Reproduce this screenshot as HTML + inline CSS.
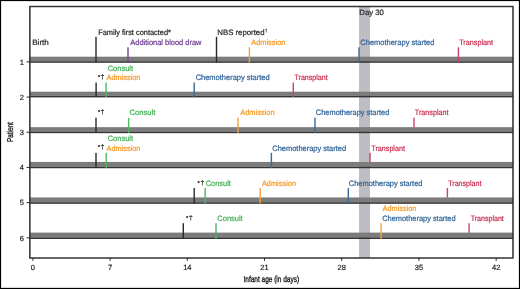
<!DOCTYPE html>
<html><head><meta charset="utf-8"><style>
html,body{margin:0;padding:0;background:#fff;}
body{width:520px;height:289px;overflow:hidden;}
svg{display:block;will-change:transform;}
text{font-family:"Liberation Sans",sans-serif;text-rendering:geometricPrecision;font-size:7.8px;fill:#1e1e1e;stroke:#1e1e1e;stroke-width:0.2px;}
.ax{stroke-width:0.35px;}
</style></head><body>
<svg width="520" height="289" viewBox="0 0 520 289">
<rect x="0" y="0" width="520" height="289" fill="#fff"/>
<g>
<rect x="0" y="0" width="520" height="1.1" fill="#000"/><rect x="0" y="0" width="1.1" height="289" fill="#000"/><rect x="518.9" y="0" width="1.1" height="289" fill="#000"/><rect x="0" y="287.85" width="520" height="1.15" fill="#000"/>
<rect x="359" y="6.5" width="11" height="251.4" fill="#bebdc4"/>
<rect x="30" y="56.70" width="483" height="4.50" fill="#7c7c7c"/>
<rect x="30" y="61.20" width="483" height="1.6" fill="#333"/>
<rect x="30" y="91.68" width="483" height="4.10" fill="#7c7c7c"/>
<rect x="30" y="95.78" width="483" height="1.6" fill="#333"/>
<rect x="30" y="127.16" width="483" height="4.40" fill="#7c7c7c"/>
<rect x="30" y="131.56" width="483" height="1.6" fill="#333"/>
<rect x="30" y="161.94" width="483" height="4.70" fill="#7c7c7c"/>
<rect x="30" y="166.64" width="483" height="1.6" fill="#333"/>
<rect x="30" y="197.42" width="483" height="4.80" fill="#7c7c7c"/>
<rect x="30" y="202.22" width="483" height="1.6" fill="#333"/>
<rect x="30" y="232.60" width="483" height="4.80" fill="#7c7c7c"/>
<rect x="30" y="237.40" width="483" height="1.6" fill="#333"/>
<rect x="95.30" y="36.80" width="1.4" height="25.80" fill="#2a2a2a"/>
<rect x="127.30" y="47.30" width="1.4" height="15.30" fill="#744590"/>
<rect x="215.80" y="36.80" width="1.4" height="25.80" fill="#2a2a2a"/>
<rect x="248.70" y="47.30" width="1.4" height="15.30" fill="#f8a03a"/>
<rect x="358.30" y="47.30" width="1.4" height="15.30" fill="#386b9b"/>
<rect x="457.70" y="47.30" width="1.4" height="15.30" fill="#d14266"/>
<rect x="95.40" y="82.48" width="1.4" height="14.70" fill="#2a2a2a"/>
<rect x="105.40" y="82.48" width="1.4" height="14.70" fill="#4db85f"/>
<rect x="193.50" y="82.48" width="1.4" height="14.70" fill="#386b9b"/>
<rect x="292.60" y="82.48" width="1.4" height="14.70" fill="#d14266"/>
<rect x="95.30" y="117.66" width="1.4" height="15.30" fill="#2a2a2a"/>
<rect x="127.90" y="117.66" width="1.4" height="15.30" fill="#4db85f"/>
<rect x="237.30" y="117.66" width="1.4" height="15.30" fill="#f8a03a"/>
<rect x="314.30" y="117.66" width="1.4" height="15.30" fill="#386b9b"/>
<rect x="413.30" y="117.66" width="1.4" height="9.80" fill="#d14266"/>
<rect x="95.30" y="152.84" width="1.4" height="15.20" fill="#2a2a2a"/>
<rect x="105.50" y="152.84" width="1.4" height="15.20" fill="#4db85f"/>
<rect x="270.70" y="152.84" width="1.4" height="15.20" fill="#386b9b"/>
<rect x="369.30" y="152.84" width="1.4" height="9.40" fill="#d14266"/>
<rect x="193.50" y="188.02" width="1.4" height="15.60" fill="#2a2a2a"/>
<rect x="204.50" y="188.02" width="1.4" height="15.60" fill="#4db85f"/>
<rect x="259.50" y="188.02" width="1.4" height="15.60" fill="#f8a03a"/>
<rect x="347.60" y="188.02" width="1.4" height="15.60" fill="#386b9b"/>
<rect x="446.70" y="188.02" width="1.4" height="9.70" fill="#d14266"/>
<rect x="182.60" y="223.20" width="1.4" height="15.60" fill="#2a2a2a"/>
<rect x="215.30" y="223.20" width="1.4" height="15.60" fill="#4db85f"/>
<rect x="380.40" y="223.20" width="1.4" height="15.60" fill="#f8a03a"/>
<rect x="468.40" y="223.20" width="1.4" height="9.70" fill="#d14266"/>
<path d="M29.85 6.5H513V257.95H29.85Z" fill="none" stroke="#333" stroke-width="1.55" stroke-linejoin="round"/>
<line x1="26.6" y1="61.90" x2="29.8" y2="61.90" stroke="#262626" stroke-width="1"/>
<text x="21.9" y="64.70" text-anchor="middle" style="font-size:7.5px">1</text>
<line x1="26.6" y1="97.08" x2="29.8" y2="97.08" stroke="#262626" stroke-width="1"/>
<text x="21.9" y="99.88" text-anchor="middle" style="font-size:7.5px">2</text>
<line x1="26.6" y1="132.26" x2="29.8" y2="132.26" stroke="#262626" stroke-width="1"/>
<text x="21.9" y="135.06" text-anchor="middle" style="font-size:7.5px">3</text>
<line x1="26.6" y1="167.44" x2="29.8" y2="167.44" stroke="#262626" stroke-width="1"/>
<text x="21.9" y="170.24" text-anchor="middle" style="font-size:7.5px">4</text>
<line x1="26.6" y1="202.62" x2="29.8" y2="202.62" stroke="#262626" stroke-width="1"/>
<text x="21.9" y="205.42" text-anchor="middle" style="font-size:7.5px">5</text>
<line x1="26.6" y1="237.80" x2="29.8" y2="237.80" stroke="#262626" stroke-width="1"/>
<text x="21.9" y="240.60" text-anchor="middle" style="font-size:7.5px">6</text>
<line x1="32.90" y1="258" x2="32.90" y2="260.8" stroke="#262626" stroke-width="1"/>
<text x="32.90" y="269.9" text-anchor="middle" style="font-size:7.5px">0</text>
<line x1="110.11" y1="258" x2="110.11" y2="260.8" stroke="#262626" stroke-width="1"/>
<text x="110.11" y="269.9" text-anchor="middle" style="font-size:7.5px">7</text>
<line x1="187.32" y1="258" x2="187.32" y2="260.8" stroke="#262626" stroke-width="1"/>
<text x="187.32" y="269.9" text-anchor="middle" style="font-size:7.5px">14</text>
<line x1="264.53" y1="258" x2="264.53" y2="260.8" stroke="#262626" stroke-width="1"/>
<text x="264.53" y="269.9" text-anchor="middle" style="font-size:7.5px">21</text>
<line x1="341.74" y1="258" x2="341.74" y2="260.8" stroke="#262626" stroke-width="1"/>
<text x="341.74" y="269.9" text-anchor="middle" style="font-size:7.5px">28</text>
<line x1="418.95" y1="258" x2="418.95" y2="260.8" stroke="#262626" stroke-width="1"/>
<text x="418.95" y="269.9" text-anchor="middle" style="font-size:7.5px">35</text>
<line x1="496.16" y1="258" x2="496.16" y2="260.8" stroke="#262626" stroke-width="1"/>
<text x="496.16" y="269.9" text-anchor="middle" style="font-size:7.5px">42</text>
<text x="271.3" y="281.8" class="ax" text-anchor="middle" textLength="55.6" lengthAdjust="spacingAndGlyphs" style="font-size:8.6px">Infant age (in days)</text>
<text transform="translate(13.3 132.1) rotate(-90)" class="ax" text-anchor="middle" textLength="20" lengthAdjust="spacingAndGlyphs" style="font-size:8.6px">Patient</text>
<text x="32.24" y="45.10" textLength="16.63" lengthAdjust="spacingAndGlyphs" style="fill:#1e1e1e;stroke:#1e1e1e">Birth</text>
<text x="98.19" y="35.40" textLength="72.72" lengthAdjust="spacingAndGlyphs" style="fill:#1e1e1e;stroke:#1e1e1e">Family first contacted*</text>
<text x="130.29" y="45.10" textLength="71.19" lengthAdjust="spacingAndGlyphs" style="fill:#6a358c;stroke:#6a358c">Additional blood draw</text>
<text x="217.36" y="35.40" textLength="47.14" lengthAdjust="spacingAndGlyphs" style="fill:#1e1e1e;stroke:#1e1e1e">NBS reported</text>
<text x="264.92" y="32.1" style="font-size:4.2px">&#8224;</text>
<text x="251.19" y="45.10" textLength="34.29" lengthAdjust="spacingAndGlyphs" style="fill:#f7961f;stroke:#f7961f">Admission</text>
<text x="360.33" y="45.10" textLength="74.05" lengthAdjust="spacingAndGlyphs" style="fill:#2c6198;stroke:#2c6198">Chemotherapy started</text>
<text x="459.24" y="45.10" textLength="33.81" lengthAdjust="spacingAndGlyphs" style="fill:#c92b50;stroke:#c92b50">Transplant</text>
<text x="107.63" y="70.58" textLength="25.43" lengthAdjust="spacingAndGlyphs" style="fill:#40b052;stroke:#40b052">Consult</text>
<text x="98.01" y="79.08" style="font-size:5.8px">*</text><text x="100.76" y="78.98" style="font-size:6.6px">&#8224;</text>
<text x="106.49" y="80.28" textLength="33.99" lengthAdjust="spacingAndGlyphs" style="fill:#f7961f;stroke:#f7961f">Admission</text>
<text x="195.63" y="80.28" textLength="74.05" lengthAdjust="spacingAndGlyphs" style="fill:#2c6198;stroke:#2c6198">Chemotherapy started</text>
<text x="294.44" y="80.28" textLength="33.31" lengthAdjust="spacingAndGlyphs" style="fill:#c92b50;stroke:#c92b50">Transplant</text>
<text x="98.01" y="114.26" style="font-size:5.8px">*</text><text x="100.76" y="114.16" style="font-size:6.6px">&#8224;</text>
<text x="129.52" y="115.46" textLength="25.83" lengthAdjust="spacingAndGlyphs" style="fill:#40b052;stroke:#40b052">Consult</text>
<text x="240.19" y="115.46" textLength="34.39" lengthAdjust="spacingAndGlyphs" style="fill:#f7961f;stroke:#f7961f">Admission</text>
<text x="315.83" y="115.46" textLength="73.45" lengthAdjust="spacingAndGlyphs" style="fill:#2c6198;stroke:#2c6198">Chemotherapy started</text>
<text x="414.84" y="115.46" textLength="33.71" lengthAdjust="spacingAndGlyphs" style="fill:#c92b50;stroke:#c92b50">Transplant</text>
<text x="107.63" y="140.94" textLength="25.43" lengthAdjust="spacingAndGlyphs" style="fill:#40b052;stroke:#40b052">Consult</text>
<text x="98.01" y="149.44" style="font-size:5.8px">*</text><text x="100.86" y="149.34" style="font-size:6.6px">&#8224;</text>
<text x="106.49" y="150.64" textLength="33.99" lengthAdjust="spacingAndGlyphs" style="fill:#f7961f;stroke:#f7961f">Admission</text>
<text x="272.33" y="150.64" textLength="73.75" lengthAdjust="spacingAndGlyphs" style="fill:#2c6198;stroke:#2c6198">Chemotherapy started</text>
<text x="371.34" y="150.64" textLength="33.61" lengthAdjust="spacingAndGlyphs" style="fill:#c92b50;stroke:#c92b50">Transplant</text>
<text x="197.41" y="184.62" style="font-size:5.8px">*</text><text x="200.56" y="184.52" style="font-size:6.6px">&#8224;</text>
<text x="205.73" y="185.82" textLength="25.22" lengthAdjust="spacingAndGlyphs" style="fill:#40b052;stroke:#40b052">Consult</text>
<text x="261.89" y="185.82" textLength="34.19" lengthAdjust="spacingAndGlyphs" style="fill:#f7961f;stroke:#f7961f">Admission</text>
<text x="348.83" y="185.82" textLength="73.65" lengthAdjust="spacingAndGlyphs" style="fill:#2c6198;stroke:#2c6198">Chemotherapy started</text>
<text x="448.24" y="185.82" textLength="33.21" lengthAdjust="spacingAndGlyphs" style="fill:#c92b50;stroke:#c92b50">Transplant</text>
<text x="185.91" y="219.80" style="font-size:5.8px">*</text><text x="189.06" y="219.70" style="font-size:6.6px">&#8224;</text>
<text x="217.33" y="221.00" textLength="25.33" lengthAdjust="spacingAndGlyphs" style="fill:#40b052;stroke:#40b052">Consult</text>
<text x="382.59" y="211.30" textLength="33.88" lengthAdjust="spacingAndGlyphs" style="fill:#f7961f;stroke:#f7961f">Admission</text>
<text x="382.23" y="221.00" textLength="73.35" lengthAdjust="spacingAndGlyphs" style="fill:#2c6198;stroke:#2c6198">Chemotherapy started</text>
<text x="470.64" y="221.00" textLength="33.21" lengthAdjust="spacingAndGlyphs" style="fill:#c92b50;stroke:#c92b50">Transplant</text>
<text x="359.37" y="14.50" textLength="24.53" lengthAdjust="spacingAndGlyphs" style="fill:#1e1e1e;stroke:#1e1e1e">Day 30</text>
</g>
</svg>
</body></html>
